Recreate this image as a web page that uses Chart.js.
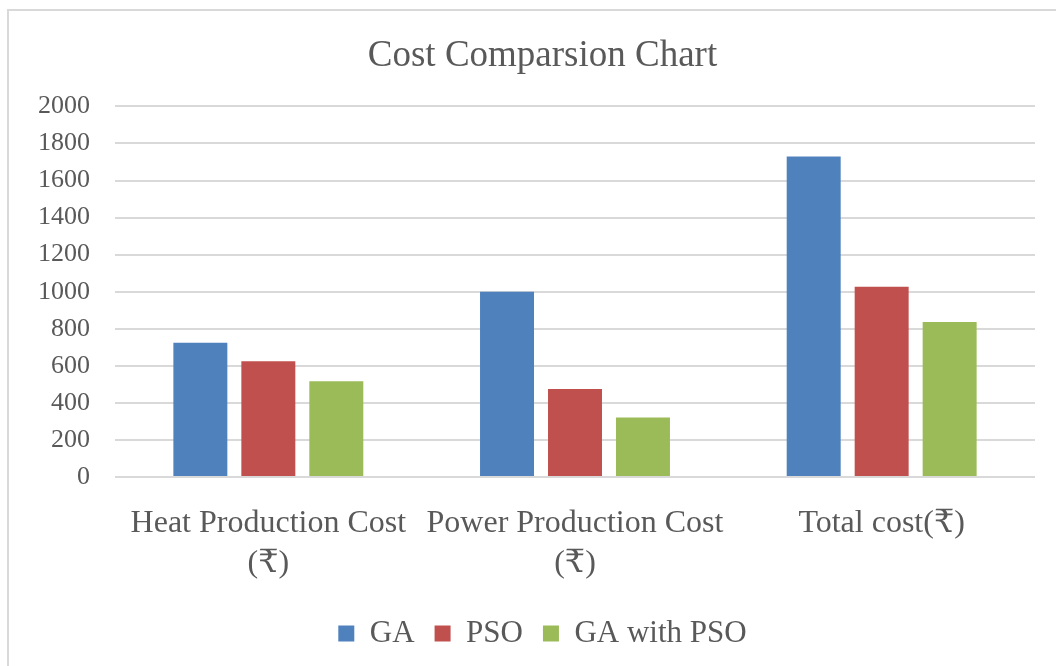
<!DOCTYPE html>
<html>
<head>
<meta charset="utf-8">
<script src="https://cdn.jsdelivr.net/npm/chart.js@4/dist/chart.umd.min.js"></script>
<style>
  html, body { margin: 0; padding: 0; background: #fff; }
  #frame { position: absolute; left: 7px; top: 9px; width: 1049px; height: 657px;
           border-left: 2px solid #d9d9d9; border-top: 2px solid #d9d9d9; }
  #wrap { position: absolute; left: 0; top: 0; width: 1056px; height: 666px; }
</style>
</head>
<body>
<div id="frame"></div>
<div id="wrap"><canvas id="c"></canvas></div>
<script>
// Kostenvergleich – Werte
const categories = [["Heat Production Cost", "(₹)"], ["Power Production Cost", "(₹)"], "Total cost(₹)"];
const gaValues = [725, 1000, 1730];
const psoValues = [625, 475, 1027];
const gaPsoValues = [517, 321, 837];
const seriesNames = ["GA", "PSO", "GA with PSO"];
const colors = ["#4f81bd", "#c0504d", "#9bbb59"];

const FONT = "'Liberation Serif', 'Times New Roman', 'DejaVu Serif', serif";
const TXT = "#595959";
const SHIFT = 15; // Titel + Legende sitzen im Original etwas rechts der Mitte

const shiftBoxes = {
  id: "shiftBoxes",
  afterLayout(chart) {
    for (const b of [chart.titleBlock, chart.legend]) {
      if (!b) continue;
      b.left += SHIFT; b.right += SHIFT;
    }
  },
};

new Chart(document.getElementById("c"), {
  type: "bar",
  data: {
    labels: categories,
    datasets: [gaValues, psoValues, gaPsoValues].map((d, i) => ({
      label: seriesNames[i], data: d, backgroundColor: colors[i],
      categoryPercentage: 0.665, barPercentage: 0.794,
    })),
  },
  options: {
    responsive: true, maintainAspectRatio: false, animation: false,
    layout: { padding: { left: 20, right: 21, top: 14, bottom: 7 } },
    plugins: {
      title: { display: true, text: "Cost Comparsion Chart", color: TXT,
        font: { family: FONT, size: 37, weight: "normal" }, padding: { top: 20, bottom: 28 } },
      legend: { position: "bottom",
        labels: { color: TXT, font: { family: FONT, size: 31 }, boxWidth: 16, boxHeight: 16, padding: 20 } },
      tooltip: { enabled: false },
    },
    scales: {
      x: {
        grid: { display: false }, border: { display: false },
        ticks: { color: TXT, font: { family: FONT, size: 32, lineHeight: 1.25 }, maxRotation: 0, padding: 19 },
        afterFit: (s) => { s.height = 121; },
      },
      y: {
        min: 0, max: 2000,
        grid: { color: "#d9d9d9", lineWidth: 2, drawTicks: false }, border: { display: false },
        ticks: { stepSize: 200, color: TXT, font: { family: FONT, size: 26 }, padding: 25,
          callback: (v) => String(v) },
        afterFit: (s) => { s.width = 95; },
      },
    },
  },
  plugins: [shiftBoxes],
});
</script>
</body>
</html>
